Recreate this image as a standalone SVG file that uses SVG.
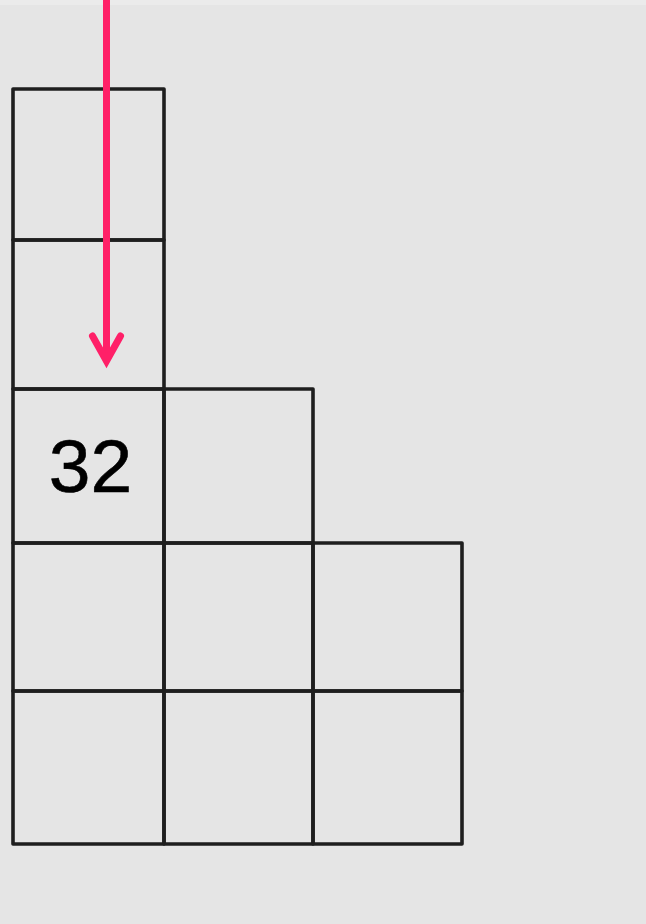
<svg xmlns="http://www.w3.org/2000/svg" width="646" height="924" viewBox="0 0 646 924">
<style>
.cell{fill:none;stroke:#1e1e1e;stroke-width:3.6;stroke-linejoin:round}
.num{font-family:"Liberation Sans",Arial,sans-serif;font-size:75px;fill:#000;stroke:#000;stroke-width:0.6}
.arrow{stroke:#ff2068;stroke-width:7;fill:none}
</style>
<rect x="0" y="0" width="646" height="924" fill="#e5e5e5"/>
<rect x="0" y="0" width="646" height="5" fill="#ebebeb"/>
<g id="grid">
<g id="c1"><rect class="cell" x="13" y="89" width="151" height="151"/></g>
<g id="c2"><rect class="cell" x="13" y="240" width="151" height="149"/></g>
<g id="c3"><rect class="cell" x="13" y="389" width="151" height="154"/><text class="num" x="90.5" y="492" text-anchor="middle">32</text></g>
<g id="c4"><rect class="cell" x="164" y="389" width="149" height="154"/></g>
<g id="c5"><rect class="cell" x="13" y="543" width="151" height="148"/></g>
<g id="c6"><rect class="cell" x="164" y="543" width="149" height="148"/></g>
<g id="c7"><rect class="cell" x="313" y="543" width="149" height="148"/></g>
<g id="c8"><rect class="cell" x="13" y="691" width="151" height="153"/></g>
<g id="c9"><rect class="cell" x="164" y="691" width="149" height="153"/></g>
<g id="c10"><rect class="cell" x="313" y="691" width="149" height="153"/></g>
</g>
<g id="connectors">
<line class="arrow" x1="106.5" y1="0" x2="106.5" y2="360"/>
<polyline class="arrow" points="92.5,336 106.5,361 120.5,336" stroke-linecap="round" stroke-linejoin="miter"/>
</g>
</svg>
